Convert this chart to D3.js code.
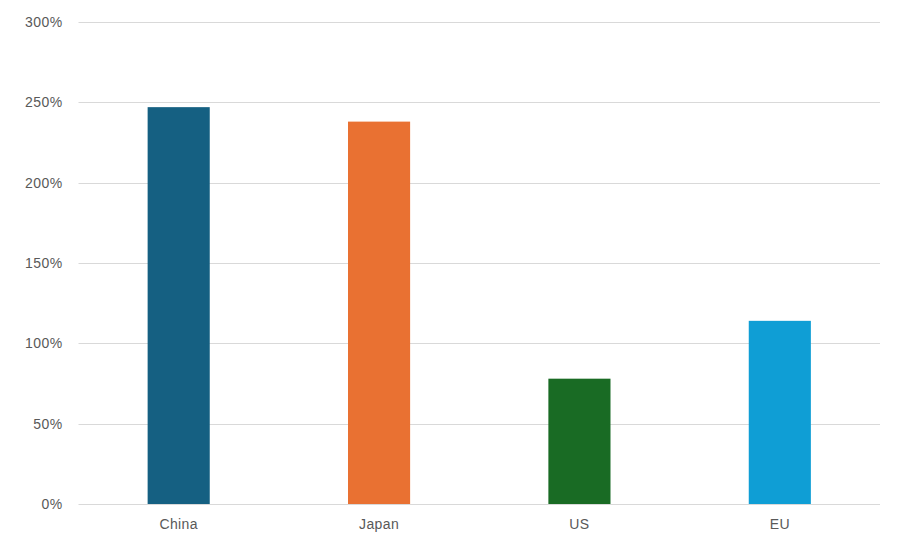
<!DOCTYPE html>
<html>
<head>
<meta charset="utf-8">
<script src="https://cdn.jsdelivr.net/npm/d3@7"></script>
<style>
  body { margin: 0; background: #fff; }
  .axis text { font-family: "Liberation Sans", Arial, sans-serif; font-size: 14px; letter-spacing: 0.4px; fill: #595959; }
</style>
</head>
<body>
<div id="chart"></div>
<script>
var categories = ["China", "Japan", "US", "EU"];
var values = [2.47, 2.38, 0.78, 1.14];
var colors = ["#156082", "#E97132", "#196B24", "#0F9ED5"];
var yTicks = [0, 0.5, 1, 1.5, 2, 2.5, 3];

var margin = {top: 22, right: 24, bottom: 42, left: 78.5};
var width = 904 - margin.left - margin.right;
var height = 546 - margin.top - margin.bottom;

var svg = d3.select("#chart").append("svg")
  .attr("width", 904)
  .attr("height", 546)
  .append("g")
  .attr("transform", "translate(" + margin.left + "," + margin.top + ")");

var x = d3.scaleBand()
  .domain(categories)
  .range([0, width])
  .paddingInner(0.69)
  .paddingOuter(0.345);

var y = d3.scaleLinear()
  .domain([0, 3])
  .range([height, 0]);

// gridlines
svg.append("g")
  .selectAll("line")
  .data(yTicks)
  .enter()
  .append("line")
  .attr("x1", 0)
  .attr("x2", width)
  .attr("y1", function(d) { return Math.round(y(d)) + 0.5; })
  .attr("y2", function(d) { return Math.round(y(d)) + 0.5; })
  .attr("stroke", "#d9d9d9")
  .attr("stroke-width", 1);

svg.append("g")
  .selectAll("rect")
  .data(values)
  .enter()
  .append("rect")
  .attr("x", function(d, i) { return x(categories[i]); })
  .attr("width", x.bandwidth())
  .attr("y", function(d) { return y(d); })
  .attr("height", function(d) { return y(0) - y(d); })
  .attr("fill", function(d, i) { return colors[i]; });

var yAxis = d3.axisLeft(y)
  .tickValues(yTicks)
  .tickSize(0)
  .tickPadding(16)
  .tickFormat(d3.format(".0%"));

svg.append("g")
  .attr("class", "axis")
  .call(yAxis)
  .call(function(g) { g.select(".domain").remove(); });

var xAxis = d3.axisBottom(x)
  .tickSize(0)
  .tickPadding(15);

svg.append("g")
  .attr("class", "axis")
  .attr("transform", "translate(0," + height + ")")
  .call(xAxis)
  .call(function(g) { g.select(".domain").remove(); });
</script>
</body>
</html>
